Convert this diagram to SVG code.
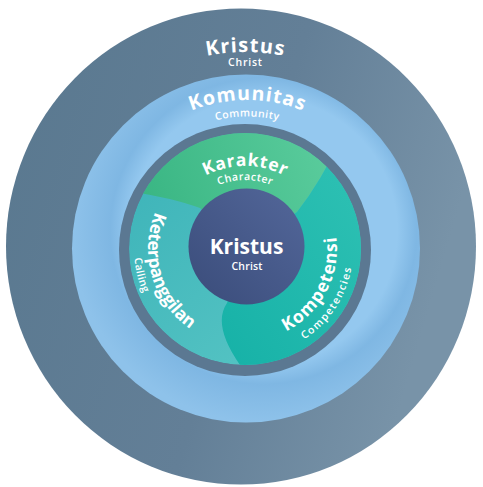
<svg xmlns="http://www.w3.org/2000/svg" width="483" height="487" viewBox="0 0 483 487">
  <defs>
    <style>
      .t { font-family: "Open Sans", "Liberation Sans", sans-serif; fill: #ffffff; }
      .big { font-weight: 700; }
      .small { font-weight: 600; font-size: 10.5px; }
    </style>
    <linearGradient id="gOuter" x1="0" y1="0" x2="1" y2="0.3">
      <stop offset="0" stop-color="#59788f"/>
      <stop offset="0.6" stop-color="#637f97"/>
      <stop offset="1" stop-color="#7893a8"/>
    </linearGradient>
    <radialGradient id="gBlue" cx="0.55" cy="0.45" r="0.55">
      <stop offset="0.7" stop-color="#94c8ef"/>
      <stop offset="0.8" stop-color="#7fb7e3"/>
      <stop offset="1" stop-color="#8ec2ea"/>
    </radialGradient>
    <linearGradient id="gGreen" x1="0" y1="0.5" x2="1" y2="0.3">
      <stop offset="0" stop-color="#34b27f"/>
      <stop offset="1" stop-color="#5fcfa0"/>
    </linearGradient>
    <linearGradient id="gTeal" x1="0" y1="1" x2="1" y2="0">
      <stop offset="0" stop-color="#14b0a6"/>
      <stop offset="1" stop-color="#33c4b6"/>
    </linearGradient>
    <linearGradient id="gLeft" x1="0" y1="0" x2="1" y2="1">
      <stop offset="0" stop-color="#3bb2b8"/>
      <stop offset="1" stop-color="#5bc8c6"/>
    </linearGradient>
    <linearGradient id="gCenter" x1="0" y1="1" x2="1" y2="0">
      <stop offset="0" stop-color="#3a4c7a"/>
      <stop offset="1" stop-color="#53679a"/>
    </linearGradient>
    <clipPath id="cInner">
      <circle cx="245" cy="249" r="116"/>
    </clipPath>
    <path id="pTop" d="M 146.5 78.4 A 197 197 0 0 1 343.5 78.4"/>
    <path id="pKom" d="M 117.1 175 A 150 150 0 0 1 376.9 175"/>
    <path id="pCom" d="M 130.1 184 A 135 135 0 0 1 363.9 184"/>
    <path id="pKar" d="M 171.4 208.5 A 85 85 0 0 1 318.6 208.5"/>
    <path id="pCha" d="M 183.5 215.5 A 71 71 0 0 1 306.5 215.5"/>
    <path id="pKet" d="M 174.6 182.2 A 97 97 0 0 0 222.4 343.3"/>
    <path id="pCal" d="M 167.9 169.2 A 111 111 0 0 0 214.4 355.7"/>
    <path id="pKmp" d="M 248.2 340.9 A 92 92 0 0 0 323.0 200.2"/>
    <path id="pCmp" d="M 238.0 356.8 A 108 108 0 0 0 341.7 200.8"/>
  </defs>

  <g id="kristus-outer">
    <ellipse cx="241" cy="246.5" rx="235" ry="238" fill="url(#gOuter)"/>
    <text class="t big" font-size="20"><textPath href="#pTop" startOffset="50%" text-anchor="middle" textLength="77" lengthAdjust="spacing">Kristus</textPath></text>
    <text class="t small" x="245" y="65.5" text-anchor="middle" textLength="34" lengthAdjust="spacing">Christ</text>
  </g>

  <g id="komunitas">
    <circle cx="246" cy="248.5" r="174" fill="url(#gBlue)"/>
    <text class="t big" font-size="19.5"><textPath href="#pKom" startOffset="50%" text-anchor="middle" textLength="114" lengthAdjust="spacing">Komunitas</textPath></text>
    <text class="t small"><textPath href="#pCom" startOffset="50%" text-anchor="middle" textLength="63" lengthAdjust="spacing">Community</textPath></text>
  </g>

  <g id="inner-ring">
    <circle cx="245" cy="250" r="126" fill="#5b7892"/>
  </g>

  <g id="segments" clip-path="url(#cInner)">
    <g id="keterpanggilan">
      <circle cx="245" cy="249" r="116" fill="url(#gLeft)"/>
    </g>
    <g id="karakter">
      <path d="M 246 247 L 200 208 Q 162 194 100 188 L 100 110 L 360 110 L 340 140 Q 322 180 297 212 Z" fill="url(#gGreen)"/>
    </g>
    <g id="kompetensi">
      <path d="M 246 247 L 297 212 Q 322 180 340 140 L 400 140 L 400 400 L 250 400 L 240 365 Q 212 325 227 303 Z" fill="url(#gTeal)"/>
    </g>
  </g>

  <g id="segment-labels">
    <text class="t big" font-size="17.5"><textPath href="#pKar" startOffset="50%" text-anchor="middle" textLength="82" lengthAdjust="spacing">Karakter</textPath></text>
    <text class="t small"><textPath href="#pCha" startOffset="50%" text-anchor="middle" textLength="54" lengthAdjust="spacing">Character</textPath></text>
    <text class="t big" font-size="17.5"><textPath href="#pKet" startOffset="50%" text-anchor="middle" textLength="132" lengthAdjust="spacing">Keterpanggilan</textPath></text>
    <text class="t small"><textPath href="#pCal" startOffset="50%" text-anchor="middle" textLength="36" lengthAdjust="spacing">Calling</textPath></text>
    <text class="t big" font-size="17.5"><textPath href="#pKmp" startOffset="50%" text-anchor="middle" textLength="114" lengthAdjust="spacing">Kompetensi</textPath></text>
    <text class="t small"><textPath href="#pCmp" startOffset="50%" text-anchor="middle" textLength="88" lengthAdjust="spacing">Competencies</textPath></text>
  </g>

  <g id="kristus-center">
    <circle cx="246.5" cy="246.5" r="58" fill="url(#gCenter)"/>
    <text class="t big" x="246.5" y="254" font-size="21" text-anchor="middle">Kristus</text>
    <text class="t small" x="247" y="269.5" text-anchor="middle" textLength="31" lengthAdjust="spacing">Christ</text>
  </g>
</svg>
